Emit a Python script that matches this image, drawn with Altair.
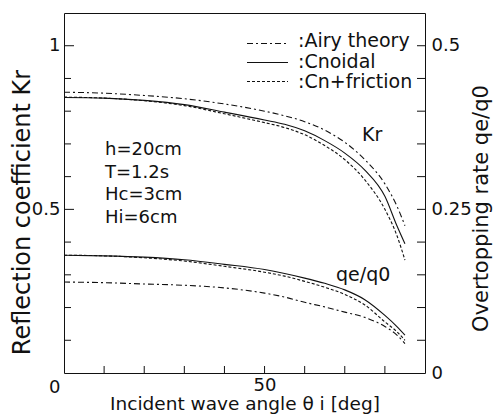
import altair as alt
import pandas as pd

# Incident wave angle (deg) at which each curve is sampled
angles = [0, 10, 20, 30, 40, 50, 55, 60, 65, 70, 75, 80, 83, 85]

# Reflection coefficient Kr
kr_airy = [0.858, 0.855, 0.848, 0.838, 0.822, 0.800, 0.786, 0.768, 0.742, 0.705, 0.652, 0.578, 0.510, 0.450]
kr_cnoidal = [0.842, 0.840, 0.833, 0.820, 0.797, 0.773, 0.760, 0.740, 0.710, 0.672, 0.620, 0.540, 0.450, 0.395]
kr_friction = [0.843, 0.840, 0.832, 0.817, 0.792, 0.765, 0.750, 0.728, 0.695, 0.652, 0.590, 0.500, 0.420, 0.345]

# Overtopping rate qe/q0
qe_airy = [0.139, 0.138, 0.136, 0.134, 0.130, 0.122, 0.116, 0.108, 0.101, 0.093, 0.085, 0.071, 0.058, 0.045]
qe_cnoidal = [0.180, 0.179, 0.177, 0.173, 0.166, 0.158, 0.152, 0.145, 0.137, 0.127, 0.112, 0.088, 0.071, 0.058]
qe_friction = [0.180, 0.179, 0.176, 0.171, 0.163, 0.154, 0.148, 0.140, 0.131, 0.120, 0.104, 0.078, 0.063, 0.050]

legend_labels = [":Airy theory", ":Cnoidal", ":Cn+friction"]
conditions = ["h=20cm", "T=1.2s", "Hc=3cm", "Hi=6cm"]
curve_labels = ["Kr", "qe/q0"]

x_ticks = [10, 20, 30, 40, 50, 60, 70, 80]
kr_ticks_minor = [0.1, 0.2, 0.3, 0.4, 0.6, 0.7, 0.8, 0.9]
kr_ticks_major = [0.5, 1.0]
qe_ticks = [0.05, 0.1, 0.15, 0.2, 0.25, 0.3, 0.35, 0.4, 0.45, 0.5]

FONT = "DejaVu Sans"
W, H = 361, 360
INK = "#111111"
AIRY_DASH = [6, 3, 2, 3]
FRIC_DASH = [3, 2]

x_axis = alt.Axis(
    values=[50], ticks=False, domain=False, grid=False,
    labelFont=FONT, labelFontSize=18, labelColor=INK, labelPadding=3,
    title="Incident wave angle θ i [deg]", titleFont=FONT, titleFontSize=18.5,
    titleFontWeight="normal", titleColor=INK, titleBaseline="alphabetic", titleY=36,
)
# the shared corner "0" sits just below the origin
kr_axis = alt.Axis(
    values=[0, 0.5, 1.0], labelExpr="datum.value + ''", ticks=False, domain=False,
    grid=False, labelFont=FONT, labelFontSize=18, labelColor=INK, labelPadding=4,
    labelBaseline={"condition": {"test": "datum.value === 0", "value": "top"}, "value": "middle"},
    labelOffset={"condition": {"test": "datum.value === 0", "value": 5}, "value": 0},
    title="Reflection coefficient Kr", titleFont=FONT, titleFontSize=24,
    titleFontWeight="normal", titleColor=INK, titleAngle=270,
    titleAlign="center", titleBaseline="middle", titleX=-42, titleY=199,
)
qe_axis = alt.Axis(
    orient="right", values=[0, 0.25, 0.5], labelExpr="datum.value + ''", ticks=False,
    domain=False, grid=False, labelFont=FONT, labelFontSize=18, labelColor=INK,
    labelPadding=6,
    title="Overtopping rate qe/q0", titleFont=FONT, titleFontSize=21,
    titleFontWeight="normal", titleColor=INK, titleAngle=270,
    titleAlign="center", titleBaseline="middle", titleX=56, titleY=195,
)

x_scale = alt.Scale(domain=[0, 90], nice=False)
kr_scale = alt.Scale(domain=[0, 1.1], nice=False, zero=True)
qe_scale = alt.Scale(domain=[0, 0.55], nice=False, zero=True)

X = alt.X("angle:Q", scale=x_scale, axis=x_axis)
Y_KR = alt.Y("v:Q", scale=kr_scale, axis=kr_axis)
Y_QE = alt.Y("v:Q", scale=qe_scale, axis=qe_axis)


def series(values):
    return pd.DataFrame({"angle": angles, "v": values})


def curve(values, y_enc, dash=None):
    kw = {"strokeDash": dash} if dash else {}
    return alt.Chart(series(values)).mark_line(
        color=INK, strokeWidth=1.1, interpolate="monotone", **kw
    ).encode(x=X, y=y_enc)


# inward tick marks along the frame
x_tick_marks = alt.Chart(pd.DataFrame({"angle": x_ticks})).mark_rule(
    color=INK, strokeWidth=1
).encode(x=X, y=alt.value(H), y2=alt.value(H - 7))

kr_minor = alt.Chart(pd.DataFrame({"v": kr_ticks_minor})).mark_rule(
    color=INK, strokeWidth=1
).encode(y=Y_KR, x=alt.value(0), x2=alt.value(7))
kr_major = alt.Chart(pd.DataFrame({"v": kr_ticks_major})).mark_rule(
    color=INK, strokeWidth=1
).encode(y=Y_KR, x=alt.value(0), x2=alt.value(10))
qe_tick_marks = alt.Chart(pd.DataFrame({"v": qe_ticks})).mark_rule(
    color=INK, strokeWidth=1
).encode(y=Y_QE, x=alt.value(W), x2=alt.value(W - 8))


def label(text, x, y, size=19, align="left"):
    return alt.Chart(pd.DataFrame({"t": [text]})).mark_text(
        font=FONT, fontSize=size, color=INK, align=align, baseline="alphabetic"
    ).encode(x=alt.value(x), y=alt.value(y), text="t:N")


def legend_line(y, dash=None):
    kw = {"strokeDash": dash} if dash else {}
    return alt.Chart(pd.DataFrame({"t": [0]})).mark_rule(
        color=INK, strokeWidth=1.1, **kw
    ).encode(x=alt.value(183), x2=alt.value(224), y=alt.value(y))


cond_text = alt.Chart(pd.DataFrame({"t": [conditions]})).mark_text(
    font=FONT, fontSize=18, color=INK, align="left", baseline="alphabetic",
    lineHeight=22.5,
).encode(x=alt.value(41), y=alt.value(142), text="t:N")

kr_group = alt.layer(
    curve(kr_airy, Y_KR, AIRY_DASH),
    curve(kr_cnoidal, Y_KR),
    curve(kr_friction, Y_KR, FRIC_DASH),
    kr_minor,
    kr_major,
    x_tick_marks,
    legend_line(30.5, AIRY_DASH),
    legend_line(49.5),
    legend_line(68.5, FRIC_DASH),
    label(legend_labels[0], 234, 34),
    label(legend_labels[1], 234, 54.5),
    label(legend_labels[2], 234, 75),
    cond_text,
    label(curve_labels[0], 298, 128),
    label(curve_labels[1], 272, 268),
)

qe_group = alt.layer(
    curve(qe_airy, Y_QE, AIRY_DASH),
    curve(qe_cnoidal, Y_QE),
    curve(qe_friction, Y_QE, FRIC_DASH),
    qe_tick_marks,
)

chart = (
    alt.layer(kr_group, qe_group)
    .resolve_scale(y="independent")
    .properties(
        width=W, height=H,
        autosize=alt.AutoSizeParams(type="none"),
        padding={"left": 64, "top": 13, "right": 494 - 64 - W, "bottom": 414 - 13 - H},
        background="white",
    )
    .configure_view(stroke=INK, strokeWidth=1)
)

chart.save("out.html", embed_options={"renderer": "svg", "actions": False})
